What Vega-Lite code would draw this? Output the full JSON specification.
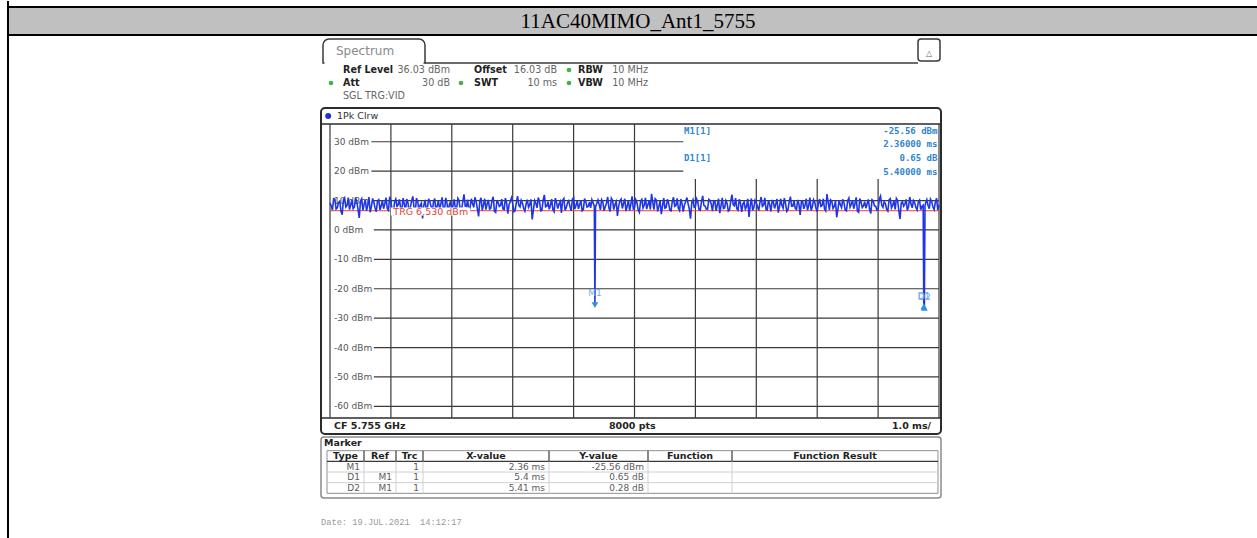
{
"$schema": "https://vega.github.io/schema/vega-lite/v6.json",
"padding": {"left": 7, "top": 0, "right": 0, "bottom": 0},
"background": "white",
"bounds": "flush",
"spacing": 0,
"config": {"view": {"stroke": null}, "font": "DejaVu Sans", "axis": {"disable": true}, "legend": {"disable": true}},
"datasets": {
 "hdr": [{"title": "11AC40MIMO_Ant1_5755"}],
 "misc": [{"trace": "1Pk Clrw", "tab": "Spectrum", "marker": "Marker", "date": "Date: 19.JUL.2021\u00a0 14:12:17", "icon": "\u25b3"}],
 "params": [
  {"row": 1, "col": 1, "name": "Ref Level", "val": "36.03 dBm", "dot": false},
  {"row": 1, "col": 2, "name": "Offset", "val": "16.03 dB", "dot": false},
  {"row": 1, "col": 3, "name": "RBW", "val": "10 MHz", "dot": true},
  {"row": 2, "col": 1, "name": "Att", "val": "30 dB", "dot": true},
  {"row": 2, "col": 2, "name": "SWT", "val": "10 ms", "dot": true},
  {"row": 2, "col": 3, "name": "VBW", "val": "10 MHz", "dot": true},
  {"row": 3, "col": 1, "name": "SGL TRG:VID", "val": "", "dot": false}
 ],
 "edges": [{"lvl": 36.03, "name": "Ref Level"}, {"lvl": -63.97, "name": "Bottom"}],
 "divs": [{"ms": 0}, {"ms": 1}, {"ms": 2}, {"ms": 3}, {"ms": 4}, {"ms": 5}, {"ms": 6}, {"ms": 7}, {"ms": 8}, {"ms": 9}, {"ms": 10}],
 "levels": [
  {"dbm": 30, "lbl": "30 dBm"}, {"dbm": 20, "lbl": "20 dBm"}, {"dbm": 10, "lbl": "10 dBm"}, {"dbm": 0, "lbl": "0 dBm"},
  {"dbm": -10, "lbl": "-10 dBm"}, {"dbm": -20, "lbl": "-20 dBm"}, {"dbm": -30, "lbl": "-30 dBm"}, {"dbm": -40, "lbl": "-40 dBm"},
  {"dbm": -50, "lbl": "-50 dBm"}, {"dbm": -60, "lbl": "-60 dBm"}
 ],
 "trg": [{"trg": 6.53, "lbl": "TRG 6.530 dBm"}],
 "footer": [{"k": "cf", "txt": "CF 5.755 GHz"}, {"k": "pts", "txt": "8000 pts"}, {"k": "div", "txt": "1.0 ms/"}],
 "markers": [
  {"type": "M1", "ref": "", "trc": 1, "xv": "2.36 ms", "yv": "-25.56 dBm", "row": 1, "t": 4.35, "lvl": -25.56, "info": "M1[1]", "lines": ["-25.56 dBm", "2.36000 ms"]},
  {"type": "D1", "ref": "M1", "trc": 1, "xv": "5.4 ms", "yv": "0.65 dB", "row": 2, "t": 9.75, "lvl": -24.91, "info": "D1[1]", "lines": ["0.65 dB", "5.40000 ms"]},
  {"type": "D2", "ref": "M1", "trc": 1, "xv": "5.41 ms", "yv": "0.28 dB", "row": 3, "t": 9.76, "lvl": -25.28, "info": "", "lines": []}
 ],
 "cols": [{"h": "Type", "ci": 0}, {"h": "Ref", "ci": 1}, {"h": "Trc", "ci": 2}, {"h": "X-value", "ci": 3}, {"h": "Y-value", "ci": 4}, {"h": "Function", "ci": 5}, {"h": "Function Result", "ci": 6}, {"h": "", "ci": 7}],
 "trace": [
  {"t":0,"d":9.1},{"t":0.04,"d":6.8},{"t":0.08,"d":10.4},{"t":0.12,"d":7.5},{"t":0.16,"d":9.8},{"t":0.2,"d":5.2},{"t":0.24,"d":10.9},{"t":0.28,"d":8.3},{"t":0.32,"d":6.9},{"t":0.36,"d":10.1},
  {"t":0.4,"d":7.7},{"t":0.44,"d":9.6},{"t":0.48,"d":4.1},{"t":0.52,"d":10.6},{"t":0.56,"d":8.8},{"t":0.6,"d":6.5},{"t":0.64,"d":11.2},{"t":0.68,"d":7.9},{"t":0.72,"d":9.4},{"t":0.76,"d":6.2},
  {"t":0.8,"d":10.3},{"t":0.84,"d":8.1},{"t":0.88,"d":7.2},{"t":0.92,"d":11.0},{"t":0.96,"d":6.7},{"t":1.0,"d":9.9},{"t":1.04,"d":5.6},{"t":1.08,"d":10.5},{"t":1.12,"d":8.6},{"t":1.16,"d":7.4},
  {"t":1.2,"d":10.8},{"t":1.24,"d":6.9},{"t":1.28,"d":9.3},{"t":1.32,"d":7.8},{"t":1.36,"d":11.4},{"t":1.4,"d":6.1},{"t":1.44,"d":9.7},{"t":1.48,"d":8.4},{"t":1.52,"d":3.9},{"t":1.56,"d":10.2},
  {"t":1.6,"d":7.6},{"t":1.64,"d":9.5},{"t":1.68,"d":6.4},{"t":1.72,"d":10.7},{"t":1.76,"d":8.2},{"t":1.8,"d":7.0},{"t":1.84,"d":11.1},{"t":1.88,"d":6.6},{"t":1.92,"d":9.2},{"t":1.96,"d":8.7},
  {"t":2.0,"d":5.9},{"t":2.04,"d":10.4},{"t":2.08,"d":7.3},{"t":2.12,"d":9.9},{"t":2.16,"d":6.8},{"t":2.2,"d":12.1},{"t":2.24,"d":8.0},{"t":2.28,"d":6.3},{"t":2.32,"d":10.6},{"t":2.36,"d":7.7},
  {"t":2.4,"d":9.6},{"t":2.44,"d":4.6},{"t":2.48,"d":10.9},{"t":2.52,"d":8.5},{"t":2.56,"d":6.9},{"t":2.6,"d":10.2},{"t":2.64,"d":7.4},{"t":2.68,"d":11.3},{"t":2.72,"d":6.0},{"t":2.76,"d":9.4},
  {"t":2.8,"d":8.3},{"t":2.84,"d":7.1},{"t":2.88,"d":10.8},{"t":2.92,"d":5.5},{"t":2.96,"d":9.7},{"t":3.0,"d":8.9},{"t":3.04,"d":6.6},{"t":3.08,"d":11.5},{"t":3.12,"d":7.8},{"t":3.16,"d":9.1},
  {"t":3.2,"d":6.4},{"t":3.24,"d":10.3},{"t":3.28,"d":8.6},{"t":3.32,"d":3.6},{"t":3.36,"d":10.0},{"t":3.4,"d":7.5},{"t":3.44,"d":9.8},{"t":3.48,"d":6.7},{"t":3.52,"d":11.9},{"t":3.56,"d":8.1},
  {"t":3.6,"d":7.0},{"t":3.64,"d":10.5},{"t":3.68,"d":6.2},{"t":3.72,"d":9.3},{"t":3.76,"d":8.8},{"t":3.8,"d":5.8},{"t":3.84,"d":10.7},{"t":3.88,"d":7.6},{"t":3.92,"d":9.9},{"t":3.96,"d":6.5},
  {"t":4.0,"d":11.0},{"t":4.04,"d":8.4},{"t":4.08,"d":7.2},{"t":4.12,"d":10.1},{"t":4.16,"d":6.9},{"t":4.2,"d":9.6},{"t":4.24,"d":8.0},{"t":4.28,"d":7.5},{"t":4.32,"d":9.2},
  {"t":4.34,"d":8.1},{"t":4.35,"d":-25.56},{"t":4.36,"d":7.8},
  {"t":4.4,"d":10.2},{"t":4.44,"d":6.8},{"t":4.48,"d":9.5},{"t":4.52,"d":7.9},{"t":4.56,"d":11.2},{"t":4.6,"d":6.3},{"t":4.64,"d":10.0},{"t":4.68,"d":8.7},{"t":4.72,"d":4.8},{"t":4.76,"d":9.8},
  {"t":4.8,"d":7.3},{"t":4.84,"d":10.6},{"t":4.88,"d":8.2},{"t":4.92,"d":6.6},{"t":4.96,"d":11.4},{"t":5.0,"d":7.7},{"t":5.04,"d":9.3},{"t":5.08,"d":6.0},{"t":5.12,"d":10.4},{"t":5.16,"d":8.5},
  {"t":5.2,"d":7.1},{"t":5.24,"d":9.9},{"t":5.28,"d":12.3},{"t":5.32,"d":6.9},{"t":5.36,"d":10.1},{"t":5.4,"d":8.0},{"t":5.44,"d":5.4},{"t":5.48,"d":10.8},{"t":5.52,"d":7.6},{"t":5.56,"d":9.2},
  {"t":5.6,"d":6.5},{"t":5.64,"d":11.1},{"t":5.68,"d":8.3},{"t":5.72,"d":7.4},{"t":5.76,"d":10.5},{"t":5.8,"d":6.2},{"t":5.84,"d":9.7},{"t":5.88,"d":8.9},{"t":5.92,"d":3.8},{"t":5.96,"d":10.3},
  {"t":6.0,"d":7.9},{"t":6.04,"d":9.4},{"t":6.08,"d":6.7},{"t":6.12,"d":11.6},{"t":6.16,"d":8.1},{"t":6.2,"d":7.0},{"t":6.24,"d":10.0},{"t":6.28,"d":6.4},{"t":6.32,"d":9.8},{"t":6.36,"d":8.6},
  {"t":6.4,"d":5.7},{"t":6.44,"d":10.9},{"t":6.48,"d":7.5},{"t":6.52,"d":9.1},{"t":6.56,"d":6.8},{"t":6.6,"d":12.0},{"t":6.64,"d":8.2},{"t":6.68,"d":7.2},{"t":6.72,"d":10.4},{"t":6.76,"d":6.1},
  {"t":6.8,"d":9.5},{"t":6.84,"d":8.0},{"t":6.88,"d":4.4},{"t":6.92,"d":10.7},{"t":6.96,"d":7.7},{"t":7.0,"d":9.3},{"t":7.04,"d":6.6},{"t":7.08,"d":11.2},{"t":7.12,"d":8.4},{"t":7.16,"d":7.0},
  {"t":7.2,"d":10.1},{"t":7.24,"d":6.3},{"t":7.28,"d":9.6},{"t":7.32,"d":8.8},{"t":7.36,"d":5.9},{"t":7.4,"d":10.6},{"t":7.44,"d":7.4},{"t":7.48,"d":9.0},{"t":7.52,"d":6.9},{"t":7.56,"d":11.3},
  {"t":7.6,"d":8.1},{"t":7.64,"d":7.3},{"t":7.68,"d":10.2},{"t":7.72,"d":5.1},{"t":7.76,"d":9.8},{"t":7.8,"d":8.5},{"t":7.84,"d":6.7},{"t":7.88,"d":11.0},{"t":7.92,"d":7.8},{"t":7.96,"d":9.4},
  {"t":8.0,"d":6.2},{"t":8.04,"d":10.5},{"t":8.08,"d":8.3},{"t":8.12,"d":7.1},{"t":8.16,"d":12.2},{"t":8.2,"d":6.8},{"t":8.24,"d":9.7},{"t":8.28,"d":8.0},{"t":8.32,"d":4.3},{"t":8.36,"d":10.1},
  {"t":8.4,"d":7.6},{"t":8.44,"d":9.2},{"t":8.48,"d":6.5},{"t":8.52,"d":10.8},{"t":8.56,"d":8.7},{"t":8.6,"d":7.2},{"t":8.64,"d":11.1},{"t":8.68,"d":6.0},{"t":8.72,"d":9.5},{"t":8.76,"d":8.2},
  {"t":8.8,"d":7.4},{"t":8.84,"d":10.4},{"t":8.88,"d":5.6},{"t":8.92,"d":9.9},{"t":8.96,"d":8.1},{"t":9.0,"d":6.9},{"t":9.04,"d":11.5},{"t":9.08,"d":7.7},{"t":9.12,"d":9.0},{"t":9.16,"d":6.4},
  {"t":9.2,"d":10.6},{"t":9.24,"d":8.4},{"t":9.28,"d":7.0},{"t":9.32,"d":10.0},{"t":9.36,"d":3.7},{"t":9.4,"d":9.6},{"t":9.44,"d":8.8},{"t":9.48,"d":6.6},{"t":9.52,"d":11.2},{"t":9.56,"d":7.5},
  {"t":9.6,"d":9.3},{"t":9.64,"d":6.8},{"t":9.68,"d":10.1},{"t":9.72,"d":8.0},
  {"t":9.74,"d":8.4},{"t":9.75,"d":-24.91},{"t":9.76,"d":-25.28},{"t":9.77,"d":8.0},
  {"t":9.8,"d":10.3},{"t":9.84,"d":7.2},{"t":9.88,"d":9.7},{"t":9.92,"d":6.9},{"t":9.96,"d":10.8},{"t":10.0,"d":8.5},
  {"t":0.02,"d":8.2},{"t":0.06,"d":10.6},{"t":0.1,"d":7.1},{"t":0.14,"d":9.4},{"t":0.18,"d":6.3},{"t":0.22,"d":10.2},{"t":0.26,"d":7.8},{"t":0.3,"d":11.0},{"t":0.34,"d":8.5},{"t":0.38,"d":7.2},
  {"t":0.42,"d":10.9},{"t":0.46,"d":7.0},{"t":0.5,"d":9.8},{"t":0.54,"d":6.6},{"t":0.58,"d":10.3},{"t":0.62,"d":8.4},{"t":0.66,"d":6.0},{"t":0.7,"d":10.7},{"t":0.74,"d":7.5},{"t":0.78,"d":9.9},
  {"t":0.82,"d":6.8},{"t":0.86,"d":10.1},{"t":0.9,"d":8.9},{"t":0.94,"d":7.3},{"t":0.98,"d":11.3},{"t":1.02,"d":6.4},{"t":1.06,"d":9.5},{"t":1.1,"d":8.0},{"t":1.14,"d":10.4},{"t":1.18,"d":6.9},
  {"t":1.22,"d":8.7},{"t":1.26,"d":10.5},{"t":1.3,"d":5.3},{"t":1.34,"d":9.9},{"t":1.38,"d":7.6},{"t":1.42,"d":10.8},{"t":1.46,"d":6.7},{"t":1.5,"d":9.1},{"t":1.54,"d":8.3},{"t":1.58,"d":7.0},
  {"t":1.62,"d":10.6},{"t":1.66,"d":8.0},{"t":1.7,"d":9.6},{"t":1.74,"d":6.1},{"t":1.78,"d":10.0},{"t":1.82,"d":8.8},{"t":1.86,"d":7.4},{"t":1.9,"d":10.9},{"t":1.94,"d":5.8},{"t":1.98,"d":9.7},
  {"t":2.02,"d":8.4},{"t":2.06,"d":7.0},{"t":2.1,"d":10.7},{"t":2.14,"d":6.6},{"t":2.18,"d":9.5},{"t":2.22,"d":8.1},{"t":2.26,"d":10.3},{"t":2.3,"d":7.6},{"t":2.34,"d":9.0},{"t":2.38,"d":11.1},
  {"t":2.42,"d":7.2},{"t":2.46,"d":9.8},{"t":2.5,"d":6.7},{"t":2.54,"d":10.6},{"t":2.58,"d":8.8},{"t":2.62,"d":7.1},{"t":2.66,"d":10.0},{"t":2.7,"d":6.4},{"t":2.74,"d":9.7},{"t":2.78,"d":8.0},
  {"t":2.82,"d":10.5},{"t":2.86,"d":6.9},{"t":2.9,"d":9.2},{"t":2.94,"d":8.6},{"t":2.98,"d":10.9},{"t":3.02,"d":6.2},{"t":3.06,"d":9.4},{"t":3.1,"d":8.3},{"t":3.14,"d":10.1},{"t":3.18,"d":7.3},
  {"t":3.22,"d":8.9},{"t":3.26,"d":7.7},{"t":3.3,"d":10.4},{"t":3.34,"d":6.8},{"t":3.38,"d":9.1},{"t":3.42,"d":11.0},{"t":3.46,"d":6.5},{"t":3.5,"d":10.2},{"t":3.54,"d":7.9},{"t":3.58,"d":9.6},
  {"t":3.62,"d":8.5},{"t":3.66,"d":6.9},{"t":3.7,"d":10.8},{"t":3.74,"d":7.3},{"t":3.78,"d":9.7},{"t":3.82,"d":10.1},{"t":3.86,"d":6.6},{"t":3.9,"d":9.2},{"t":3.94,"d":8.0},{"t":3.98,"d":10.4},
  {"t":4.02,"d":7.1},{"t":4.06,"d":9.9},{"t":4.1,"d":8.6},{"t":4.14,"d":6.5},{"t":4.18,"d":10.7},{"t":4.22,"d":7.8},{"t":4.26,"d":9.4},{"t":4.3,"d":10.3},{"t":4.38,"d":9.0},
  {"t":4.42,"d":8.6},{"t":4.46,"d":10.3},{"t":4.5,"d":6.5},{"t":4.54,"d":9.1},{"t":4.58,"d":7.4},{"t":4.62,"d":10.8},{"t":4.66,"d":6.9},{"t":4.7,"d":9.6},{"t":4.74,"d":8.2},{"t":4.78,"d":10.5},
  {"t":4.82,"d":9.0},{"t":4.86,"d":6.4},{"t":4.9,"d":10.1},{"t":4.94,"d":8.7},{"t":4.98,"d":7.2},{"t":5.02,"d":10.3},{"t":5.06,"d":6.8},{"t":5.1,"d":9.8},{"t":5.14,"d":7.5},{"t":5.18,"d":10.9},
  {"t":5.22,"d":8.6},{"t":5.26,"d":7.0},{"t":5.3,"d":9.4},{"t":5.34,"d":10.6},{"t":5.38,"d":6.3},{"t":5.42,"d":9.9},{"t":5.46,"d":8.1},{"t":5.5,"d":7.4},{"t":5.54,"d":10.4},{"t":5.58,"d":6.7},
  {"t":5.62,"d":9.6},{"t":5.66,"d":8.0},{"t":5.7,"d":10.7},{"t":5.74,"d":6.6},{"t":5.78,"d":9.0},{"t":5.82,"d":8.5},{"t":5.86,"d":11.0},{"t":5.9,"d":7.1},{"t":5.94,"d":9.3},{"t":5.98,"d":7.7},
  {"t":6.02,"d":10.5},{"t":6.06,"d":6.9},{"t":6.1,"d":9.6},{"t":6.14,"d":8.3},{"t":6.18,"d":7.1},{"t":6.22,"d":10.4},{"t":6.26,"d":8.8},{"t":6.3,"d":9.9},{"t":6.34,"d":6.5},{"t":6.38,"d":10.6},
  {"t":6.42,"d":8.2},{"t":6.46,"d":7.3},{"t":6.5,"d":10.0},{"t":6.54,"d":6.4},{"t":6.58,"d":9.7},{"t":6.62,"d":8.6},{"t":6.66,"d":10.8},{"t":6.7,"d":6.7},{"t":6.74,"d":9.2},{"t":6.78,"d":8.9},
  {"t":6.82,"d":7.1},{"t":6.86,"d":10.6},{"t":6.9,"d":8.3},{"t":6.94,"d":6.6},{"t":6.98,"d":10.1},{"t":7.02,"d":7.9},{"t":7.06,"d":9.4},{"t":7.1,"d":8.0},{"t":7.14,"d":10.9},{"t":7.18,"d":6.8},
  {"t":7.22,"d":8.7},{"t":7.26,"d":9.9},{"t":7.3,"d":7.3},{"t":7.34,"d":10.5},{"t":7.38,"d":7.8},{"t":7.42,"d":8.4},{"t":7.46,"d":10.8},{"t":7.5,"d":6.3},{"t":7.54,"d":9.5},{"t":7.58,"d":8.1},
  {"t":7.62,"d":10.0},{"t":7.66,"d":6.9},{"t":7.7,"d":8.8},{"t":7.74,"d":9.5},{"t":7.78,"d":7.2},{"t":7.82,"d":10.6},{"t":7.86,"d":8.2},{"t":7.9,"d":6.6},{"t":7.94,"d":10.3},{"t":7.98,"d":7.4},
  {"t":8.02,"d":9.1},{"t":8.06,"d":8.0},{"t":8.1,"d":10.6},{"t":8.14,"d":6.5},{"t":8.18,"d":9.4},{"t":8.22,"d":10.2},{"t":8.26,"d":7.3},{"t":8.3,"d":9.8},{"t":8.34,"d":7.0},{"t":8.38,"d":8.6},
  {"t":8.42,"d":10.4},{"t":8.46,"d":6.8},{"t":8.5,"d":9.9},{"t":8.54,"d":7.7},{"t":8.58,"d":10.1},{"t":8.62,"d":8.9},{"t":8.66,"d":6.4},{"t":8.7,"d":10.7},{"t":8.74,"d":7.6},{"t":8.78,"d":9.6},
  {"t":8.82,"d":8.9},{"t":8.86,"d":7.1},{"t":8.9,"d":10.3},{"t":8.94,"d":8.2},{"t":8.98,"d":6.7},{"t":9.02,"d":10.5},{"t":9.06,"d":8.4},{"t":9.1,"d":9.6},{"t":9.14,"d":7.0},{"t":9.18,"d":10.2},
  {"t":9.22,"d":7.5},{"t":9.26,"d":9.9},{"t":9.3,"d":10.7},{"t":9.34,"d":6.6},{"t":9.38,"d":9.2},{"t":9.42,"d":8.1},{"t":9.46,"d":10.4},{"t":9.5,"d":7.9},{"t":9.54,"d":8.8},{"t":9.58,"d":10.0},
  {"t":9.62,"d":7.6},{"t":9.66,"d":9.5},{"t":9.7,"d":6.9},{"t":9.78,"d":9.2},
  {"t":9.82,"d":8.3},{"t":9.86,"d":10.5},{"t":9.9,"d":7.8},{"t":9.94,"d":9.4},{"t":9.98,"d":6.8}
 ]
},
"vconcat": [
 {
  "width": 1250, "height": 34,
  "data": {"name": "hdr"},
  "layer": [
   {"mark": {"type": "rect", "fill": "#c0c0c0"},
    "encoding": {
     "x": {"datum": 0, "type": "quantitative", "scale": {"domain": [0, 1], "nice": false, "zero": false}, "axis": null},
     "x2": {"datum": 1},
     "y": {"datum": 6, "type": "quantitative", "scale": {"domain": [0, 34], "reverse": true, "nice": false, "zero": false}, "axis": null},
     "y2": {"datum": 34}}},
   {"mark": {"type": "rule", "stroke": "black", "strokeWidth": 2},
    "encoding": {"y": {"datum": 6, "type": "quantitative", "scale": {"domain": [0, 34], "reverse": true, "nice": false, "zero": false}}}},
   {"mark": {"type": "rule", "stroke": "black", "strokeWidth": 2},
    "encoding": {"y": {"datum": 34, "type": "quantitative", "scale": {"domain": [0, 34], "reverse": true, "nice": false, "zero": false}}}},
   {"mark": {"type": "rule", "stroke": "black", "strokeWidth": 2},
    "encoding": {"x": {"datum": 0, "type": "quantitative", "scale": {"domain": [0, 1], "nice": false, "zero": false}}}},
   {"mark": {"type": "text", "font": "Liberation Serif", "fontSize": 21, "fill": "black", "align": "center", "baseline": "middle"},
    "encoding": {
     "x": {"datum": 0.504, "type": "quantitative", "scale": {"domain": [0, 1], "nice": false, "zero": false}},
     "y": {"datum": 20.5, "type": "quantitative", "scale": {"domain": [0, 34], "reverse": true, "nice": false, "zero": false}},
     "text": {"field": "title"}}}
  ]
 },
 {
  "hconcat": [
   {
    "width": 1, "height": 504,
    "data": {"name": "hdr"},
    "mark": {"type": "rule", "stroke": "black", "strokeWidth": 2},
    "encoding": {"x": {"datum": 0, "type": "quantitative", "scale": {"domain": [0, 1], "nice": false, "zero": false}, "axis": null}}
   },
   {
    "vconcat": [
     {
      "width": 620, "height": 70,
      "resolve": {"scale": {"x": "independent", "y": "independent"}},
      "layer": [
       {"data": {"name": "misc"},
        "mark": {"type": "rect", "fill": "white", "stroke": "#3a3a3a", "strokeWidth": 1.5, "cornerRadiusTopLeft": 6, "cornerRadiusTopRight": 6},
        "encoding": {
         "x": {"datum": 2, "type": "quantitative", "scale": {"domain": [0, 620], "nice": false, "zero": false}},
         "x2": {"datum": 104},
         "y": {"datum": 4, "type": "quantitative", "scale": {"domain": [0, 70], "reverse": true, "nice": false, "zero": false}},
         "y2": {"datum": 28}}},
       {"data": {"name": "misc"},
        "mark": {"type": "rule", "stroke": "white", "strokeWidth": 2.5},
        "encoding": {
         "x": {"datum": 3.5, "type": "quantitative", "scale": {"domain": [0, 620], "nice": false, "zero": false}},
         "x2": {"datum": 102.5},
         "y": {"datum": 28, "type": "quantitative", "scale": {"domain": [0, 70], "reverse": true, "nice": false, "zero": false}}}},
       {"data": {"name": "misc"},
        "mark": {"type": "rule", "stroke": "#3a3a3a", "strokeWidth": 1.5},
        "encoding": {
         "x": {"datum": 104, "type": "quantitative", "scale": {"domain": [0, 620], "nice": false, "zero": false}},
         "x2": {"datum": 597},
         "y": {"datum": 28, "type": "quantitative", "scale": {"domain": [0, 70], "reverse": true, "nice": false, "zero": false}}}},
       {"data": {"name": "misc"},
        "mark": {"type": "text", "align": "left", "baseline": "middle", "fontSize": 12, "fill": "#8a8a8a"},
        "encoding": {
         "x": {"datum": 15, "type": "quantitative", "scale": {"domain": [0, 620], "nice": false, "zero": false}},
         "y": {"datum": 16, "type": "quantitative", "scale": {"domain": [0, 70], "reverse": true, "nice": false, "zero": false}},
         "text": {"field": "tab"}}},
       {"data": {"name": "misc"},
        "mark": {"type": "rect", "fill": "white", "stroke": "#3a3a3a", "strokeWidth": 1.5, "cornerRadius": 3},
        "encoding": {
         "x": {"datum": 597, "type": "quantitative", "scale": {"domain": [0, 620], "nice": false, "zero": false}},
         "x2": {"datum": 619},
         "y": {"datum": 4, "type": "quantitative", "scale": {"domain": [0, 70], "reverse": true, "nice": false, "zero": false}},
         "y2": {"datum": 26}}},
       {"data": {"name": "misc"},
        "mark": {"type": "text", "align": "center", "baseline": "middle", "fontSize": 8, "fill": "#666"},
        "encoding": {
         "x": {"datum": 608, "type": "quantitative", "scale": {"domain": [0, 620], "nice": false, "zero": false}},
         "y": {"datum": 19, "type": "quantitative", "scale": {"domain": [0, 70], "reverse": true, "nice": false, "zero": false}},
         "text": {"field": "icon"}}},
       {"data": {"name": "params"},
        "transform": [{"filter": "datum.row < 3"}],
        "mark": {"type": "text", "align": "left", "baseline": "middle", "fontSize": 9.6, "fontWeight": "bold", "fill": "#222"},
        "encoding": {
         "x": {"field": "col", "type": "quantitative", "scale": {"domain": [1, 2, 3], "range": [22, 153, 257], "nice": false, "zero": false}},
         "y": {"field": "row", "type": "quantitative", "scale": {"domain": [1, 3], "range": [35, 61], "nice": false, "zero": false}},
         "text": {"field": "name"}}},
       {"data": {"name": "params"},
        "transform": [{"filter": "datum.row < 3"}],
        "mark": {"type": "text", "align": "right", "baseline": "middle", "fontSize": 9.6, "fill": "#666"},
        "encoding": {
         "x": {"field": "col", "type": "quantitative", "scale": {"domain": [1, 2, 3], "range": [129, 236, 327], "nice": false, "zero": false}},
         "y": {"field": "row", "type": "quantitative", "scale": {"domain": [1, 3], "range": [35, 61], "nice": false, "zero": false}},
         "text": {"field": "val"}}},
       {"data": {"name": "params"},
        "transform": [{"filter": "datum.dot"}],
        "mark": {"type": "point", "shape": "circle", "filled": true, "size": 22, "fill": "#44b04c", "opacity": 1},
        "encoding": {
         "x": {"field": "col", "type": "quantitative", "scale": {"domain": [1, 2, 3], "range": [10, 140, 248], "nice": false, "zero": false}},
         "y": {"field": "row", "type": "quantitative", "scale": {"domain": [1, 3], "range": [35, 61], "nice": false, "zero": false}}}},
       {"data": {"name": "params"},
        "transform": [{"filter": "datum.row == 3"}],
        "mark": {"type": "text", "align": "left", "baseline": "middle", "fontSize": 9.6, "fill": "#666"},
        "encoding": {
         "x": {"field": "col", "type": "quantitative", "scale": {"domain": [1, 2, 3], "range": [22, 153, 257], "nice": false, "zero": false}},
         "y": {"field": "row", "type": "quantitative", "scale": {"domain": [1, 3], "range": [35, 61], "nice": false, "zero": false}},
         "text": {"field": "name"}}}
      ]
     },
     {
      "width": 620, "height": 326,
      "view": {"stroke": "#2b2b2b", "strokeWidth": 2, "cornerRadius": 4},
      "layer": [
       {"data": {"name": "edges"},
        "mark": {"type": "rule", "stroke": "#2b2b2b", "strokeWidth": 1.5},
        "encoding": {"y": {"field": "lvl", "type": "quantitative", "scale": {"domain": [-69.412, 41.472], "nice": false, "zero": false}}}},
       {"data": {"name": "divs"},
        "transform": [{"filter": "datum.ms <= 5 || datum.ms == 10"}],
        "mark": {"type": "rule", "stroke": "#3a3a3a", "strokeWidth": 1.2},
        "encoding": {
         "x": {"field": "ms", "type": "quantitative", "scale": {"domain": [-0.1478, 10.0328], "nice": false, "zero": false}},
         "y": {"datum": -63.97, "type": "quantitative", "scale": {"domain": [-69.412, 41.472], "nice": false, "zero": false}},
         "y2": {"datum": 36.03}}},
       {"data": {"name": "divs"},
        "transform": [{"filter": "datum.ms > 5 && datum.ms < 10"}],
        "mark": {"type": "rule", "stroke": "#3a3a3a", "strokeWidth": 1.2},
        "encoding": {
         "x": {"field": "ms", "type": "quantitative", "scale": {"domain": [-0.1478, 10.0328], "nice": false, "zero": false}},
         "y": {"datum": -63.97, "type": "quantitative", "scale": {"domain": [-69.412, 41.472], "nice": false, "zero": false}},
         "y2": {"datum": 17.32}}},
       {"data": {"name": "levels"},
        "transform": [{"filter": "datum.dbm <= 10"}],
        "mark": {"type": "rule", "stroke": "#3a3a3a", "strokeWidth": 1.2},
        "encoding": {
         "y": {"field": "dbm", "type": "quantitative", "scale": {"domain": [-69.412, 41.472], "nice": false, "zero": false}},
         "x": {"datum": 0.72, "type": "quantitative", "scale": {"domain": [-0.1478, 10.0328], "nice": false, "zero": false}},
         "x2": {"datum": 10}}},
       {"data": {"name": "levels"},
        "transform": [{"filter": "datum.dbm > 10"}],
        "mark": {"type": "rule", "stroke": "#3a3a3a", "strokeWidth": 1.2},
        "encoding": {
         "y": {"field": "dbm", "type": "quantitative", "scale": {"domain": [-69.412, 41.472], "nice": false, "zero": false}},
         "x": {"datum": 0.68, "type": "quantitative", "scale": {"domain": [-0.1478, 10.0328], "nice": false, "zero": false}},
         "x2": {"datum": 5.8}}},
       {"data": {"name": "levels"},
        "mark": {"type": "text", "align": "left", "baseline": "middle", "fontSize": 9, "fill": "#555"},
        "encoding": {
         "y": {"field": "dbm", "type": "quantitative", "scale": {"domain": [-69.412, 41.472], "nice": false, "zero": false}},
         "x": {"datum": 0.066, "type": "quantitative", "scale": {"domain": [-0.1478, 10.0328], "nice": false, "zero": false}},
         "text": {"field": "lbl"}}},
       {"data": {"name": "trg"},
        "mark": {"type": "rule", "stroke": "#e8412f", "strokeWidth": 1},
        "encoding": {
         "y": {"field": "trg", "type": "quantitative", "scale": {"domain": [-69.412, 41.472], "nice": false, "zero": false}},
         "x": {"datum": 0, "type": "quantitative", "scale": {"domain": [-0.1478, 10.0328], "nice": false, "zero": false}},
         "x2": {"datum": 10}}},
       {"data": {"name": "trace"},
        "mark": {"type": "line", "stroke": "#1f35e6", "strokeWidth": 1.6},
        "encoding": {
         "x": {"field": "t", "type": "quantitative", "scale": {"domain": [-0.1478, 10.0328], "nice": false, "zero": false}},
         "y": {"field": "d", "type": "quantitative", "scale": {"domain": [-69.412, 41.472], "nice": false, "zero": false}}}},
       {"data": {"name": "trg"},
        "mark": {"type": "rect", "fill": "white"},
        "encoding": {
         "x": {"datum": 1.0, "type": "quantitative", "scale": {"domain": [-0.1478, 10.0328], "nice": false, "zero": false}},
         "x2": {"datum": 2.3},
         "y": {"datum": 4.9, "type": "quantitative", "scale": {"domain": [-69.412, 41.472], "nice": false, "zero": false}},
         "y2": {"datum": 7.6}}},
       {"data": {"name": "trg"},
        "mark": {"type": "text", "align": "left", "baseline": "middle", "fontSize": 9.5, "fill": "#e8412f", "dy": 1},
        "encoding": {
         "y": {"field": "trg", "type": "quantitative", "scale": {"domain": [-69.412, 41.472], "nice": false, "zero": false}},
         "x": {"datum": 1.04, "type": "quantitative", "scale": {"domain": [-0.1478, 10.0328], "nice": false, "zero": false}},
         "text": {"field": "lbl"}}},
       {"data": {"name": "markers"},
        "transform": [{"filter": "datum.type == 'M1'"}],
        "mark": {"type": "point", "shape": "triangle-down", "filled": true, "size": 45, "fill": "#2f8fe0", "opacity": 1},
        "encoding": {
         "x": {"field": "t", "type": "quantitative", "scale": {"domain": [-0.1478, 10.0328], "nice": false, "zero": false}},
         "y": {"field": "lvl", "type": "quantitative", "scale": {"domain": [-69.412, 41.472], "nice": false, "zero": false}}}},
       {"data": {"name": "markers"},
        "transform": [{"filter": "datum.type != 'M1'"}],
        "mark": {"type": "point", "shape": "triangle-up", "filled": true, "size": 45, "fill": "#2f8fe0", "opacity": 1, "yOffset": 3.5},
        "encoding": {
         "x": {"field": "t", "type": "quantitative", "scale": {"domain": [-0.1478, 10.0328], "nice": false, "zero": false}},
         "y": {"field": "lvl", "type": "quantitative", "scale": {"domain": [-69.412, 41.472], "nice": false, "zero": false}}}},
       {"data": {"name": "markers"},
        "transform": [{"filter": "datum.type == 'M1'"}],
        "mark": {"type": "text", "align": "center", "baseline": "middle", "fontSize": 9, "fill": "#6fb0ec", "dy": -12},
        "encoding": {
         "x": {"field": "t", "type": "quantitative", "scale": {"domain": [-0.1478, 10.0328], "nice": false, "zero": false}},
         "y": {"field": "lvl", "type": "quantitative", "scale": {"domain": [-69.412, 41.472], "nice": false, "zero": false}},
         "text": {"field": "type"}}},
       {"data": {"name": "markers"},
        "transform": [{"filter": "datum.type != 'M1'"}],
        "mark": {"type": "text", "align": "center", "baseline": "middle", "fontSize": 9, "fill": "#6fb0ec", "dy": -7},
        "encoding": {
         "x": {"field": "t", "type": "quantitative", "scale": {"domain": [-0.1478, 10.0328], "nice": false, "zero": false}},
         "y": {"field": "lvl", "type": "quantitative", "scale": {"domain": [-69.412, 41.472], "nice": false, "zero": false}},
         "text": {"field": "type"}}},
       {"data": {"name": "markers"},
        "transform": [{"filter": "datum.type == 'M1'"}],
        "mark": {"type": "text", "align": "left", "baseline": "top", "font": "DejaVu Sans Mono", "fontWeight": "bold", "fontSize": 9, "fill": "#2f86cf"},
        "encoding": {
         "x": {"datum": 5.813, "type": "quantitative", "scale": {"domain": [-0.1478, 10.0328], "nice": false, "zero": false}},
         "y": {"datum": 35.01, "type": "quantitative", "scale": {"domain": [-69.412, 41.472], "nice": false, "zero": false}},
         "text": {"field": "info"}}},
       {"data": {"name": "markers"},
        "transform": [{"filter": "datum.type == 'D1'"}],
        "mark": {"type": "text", "align": "left", "baseline": "top", "font": "DejaVu Sans Mono", "fontWeight": "bold", "fontSize": 9, "fill": "#2f86cf"},
        "encoding": {
         "x": {"datum": 5.813, "type": "quantitative", "scale": {"domain": [-0.1478, 10.0328], "nice": false, "zero": false}},
         "y": {"datum": 25.82, "type": "quantitative", "scale": {"domain": [-69.412, 41.472], "nice": false, "zero": false}},
         "text": {"field": "info"}}},
       {"data": {"name": "markers"},
        "transform": [{"filter": "datum.type == 'M1'"}],
        "mark": {"type": "text", "align": "right", "baseline": "top", "font": "DejaVu Sans Mono", "fontWeight": "bold", "fontSize": 9, "fill": "#2f86cf", "lineHeight": 13.5},
        "encoding": {
         "x": {"datum": 9.974, "type": "quantitative", "scale": {"domain": [-0.1478, 10.0328], "nice": false, "zero": false}},
         "y": {"datum": 35.01, "type": "quantitative", "scale": {"domain": [-69.412, 41.472], "nice": false, "zero": false}},
         "text": {"field": "lines"}}},
       {"data": {"name": "markers"},
        "transform": [{"filter": "datum.type == 'D1'"}],
        "mark": {"type": "text", "align": "right", "baseline": "top", "font": "DejaVu Sans Mono", "fontWeight": "bold", "fontSize": 9, "fill": "#2f86cf", "lineHeight": 13.5},
        "encoding": {
         "x": {"datum": 9.974, "type": "quantitative", "scale": {"domain": [-0.1478, 10.0328], "nice": false, "zero": false}},
         "y": {"datum": 25.82, "type": "quantitative", "scale": {"domain": [-69.412, 41.472], "nice": false, "zero": false}},
         "text": {"field": "lines"}}},
       {"data": {"name": "misc"},
        "mark": {"type": "point", "shape": "circle", "filled": true, "size": 36, "fill": "#2233cc", "opacity": 1},
        "encoding": {
         "x": {"datum": -0.03, "type": "quantitative", "scale": {"domain": [-0.1478, 10.0328], "nice": false, "zero": false}},
         "y": {"datum": 38.75, "type": "quantitative", "scale": {"domain": [-69.412, 41.472], "nice": false, "zero": false}}}},
       {"data": {"name": "misc"},
        "mark": {"type": "text", "align": "left", "baseline": "middle", "fontSize": 9.5, "fill": "#333"},
        "encoding": {
         "x": {"datum": 0.115, "type": "quantitative", "scale": {"domain": [-0.1478, 10.0328], "nice": false, "zero": false}},
         "y": {"datum": 38.75, "type": "quantitative", "scale": {"domain": [-69.412, 41.472], "nice": false, "zero": false}},
         "text": {"field": "trace"}}},
       {"data": {"name": "footer"},
        "transform": [{"filter": "datum.k == 'cf'"}],
        "mark": {"type": "text", "align": "left", "baseline": "middle", "fontSize": 9.5, "fontWeight": "bold", "fill": "#222"},
        "encoding": {
         "x": {"datum": 0.066, "type": "quantitative", "scale": {"domain": [-0.1478, 10.0328], "nice": false, "zero": false}},
         "y": {"datum": -66.69, "type": "quantitative", "scale": {"domain": [-69.412, 41.472], "nice": false, "zero": false}},
         "text": {"field": "txt"}}},
       {"data": {"name": "footer"},
        "transform": [{"filter": "datum.k == 'pts'"}],
        "mark": {"type": "text", "align": "left", "baseline": "middle", "fontSize": 9.5, "fontWeight": "bold", "fill": "#222"},
        "encoding": {
         "x": {"datum": 4.58, "type": "quantitative", "scale": {"domain": [-0.1478, 10.0328], "nice": false, "zero": false}},
         "y": {"datum": -66.69, "type": "quantitative", "scale": {"domain": [-69.412, 41.472], "nice": false, "zero": false}},
         "text": {"field": "txt"}}},
       {"data": {"name": "footer"},
        "transform": [{"filter": "datum.k == 'div'"}],
        "mark": {"type": "text", "align": "right", "baseline": "middle", "fontSize": 9.5, "fontWeight": "bold", "fill": "#222"},
        "encoding": {
         "x": {"datum": 9.87, "type": "quantitative", "scale": {"domain": [-0.1478, 10.0328], "nice": false, "zero": false}},
         "y": {"datum": -66.69, "type": "quantitative", "scale": {"domain": [-69.412, 41.472], "nice": false, "zero": false}},
         "text": {"field": "txt"}}}
      ]
     },
     {
      "width": 620, "height": 61,
      "view": {"stroke": "#8a8a8a", "strokeWidth": 1.5, "cornerRadius": 3},
      "layer": [
       {"data": {"name": "misc"},
        "mark": {"type": "text", "align": "left", "baseline": "middle", "fontSize": 9.5, "fontWeight": "bold", "fill": "#222"},
        "encoding": {
         "x": {"datum": -0.08, "type": "quantitative", "scale": {"domain": [0, 1, 2, 3, 4, 5, 6, 7], "range": [6, 43, 75, 102, 228, 327, 411, 617], "nice": false, "zero": false}},
         "y": {"datum": -1.25, "type": "quantitative", "scale": {"domain": [0, 3], "range": [19, 51], "nice": false, "zero": false}},
         "text": {"field": "marker"}}},
       {"data": {"name": "misc"},
        "mark": {"type": "rect", "fill": "white", "stroke": "#909090", "strokeWidth": 1},
        "encoding": {
         "x": {"datum": 0, "type": "quantitative", "scale": {"domain": [0, 1, 2, 3, 4, 5, 6, 7], "range": [6, 43, 75, 102, 228, 327, 411, 617], "nice": false, "zero": false}},
         "x2": {"datum": 7},
         "y": {"datum": -0.5, "type": "quantitative", "scale": {"domain": [0, 3], "range": [19, 51], "nice": false, "zero": false}},
         "y2": {"datum": 3.5}}},
       {"data": {"name": "misc"},
        "mark": {"type": "rule", "stroke": "#3a3a3a", "strokeWidth": 1.2},
        "encoding": {
         "x": {"datum": 0, "type": "quantitative", "scale": {"domain": [0, 1, 2, 3, 4, 5, 6, 7], "range": [6, 43, 75, 102, 228, 327, 411, 617], "nice": false, "zero": false}},
         "x2": {"datum": 7},
         "y": {"datum": 0.5, "type": "quantitative", "scale": {"domain": [0, 3], "range": [19, 51], "nice": false, "zero": false}}}},
       {"data": {"name": "markers"},
        "transform": [{"filter": "datum.row < 3"}, {"calculate": "datum.row + 0.5", "as": "sep"}],
        "mark": {"type": "rule", "stroke": "#d0d0d0", "strokeWidth": 1},
        "encoding": {
         "x": {"datum": 0, "type": "quantitative", "scale": {"domain": [0, 1, 2, 3, 4, 5, 6, 7], "range": [6, 43, 75, 102, 228, 327, 411, 617], "nice": false, "zero": false}},
         "x2": {"datum": 7},
         "y": {"field": "sep", "type": "quantitative", "scale": {"domain": [0, 3], "range": [19, 51], "nice": false, "zero": false}}}},
       {"data": {"name": "cols"},
        "transform": [{"filter": "datum.ci > 0 && datum.ci < 7"}],
        "mark": {"type": "rule", "stroke": "#d0d0d0", "strokeWidth": 1},
        "encoding": {
         "x": {"field": "ci", "type": "quantitative", "scale": {"domain": [0, 1, 2, 3, 4, 5, 6, 7], "range": [6, 43, 75, 102, 228, 327, 411, 617], "nice": false, "zero": false}},
         "y": {"datum": 0.5, "type": "quantitative", "scale": {"domain": [0, 3], "range": [19, 51], "nice": false, "zero": false}},
         "y2": {"datum": 3.5}}},
       {"data": {"name": "cols"},
        "transform": [{"filter": "datum.ci > 0 && datum.ci < 7"}],
        "mark": {"type": "rule", "stroke": "#3a3a3a", "strokeWidth": 1.2},
        "encoding": {
         "x": {"field": "ci", "type": "quantitative", "scale": {"domain": [0, 1, 2, 3, 4, 5, 6, 7], "range": [6, 43, 75, 102, 228, 327, 411, 617], "nice": false, "zero": false}},
         "y": {"datum": -0.5, "type": "quantitative", "scale": {"domain": [0, 3], "range": [19, 51], "nice": false, "zero": false}},
         "y2": {"datum": 0.5}}},
       {"data": {"name": "cols"},
        "transform": [{"filter": "datum.ci < 7"}, {"calculate": "datum.ci + 0.5", "as": "mid"}],
        "mark": {"type": "text", "align": "center", "baseline": "middle", "fontSize": 9.5, "fontWeight": "bold", "fill": "#222"},
        "encoding": {
         "x": {"field": "mid", "type": "quantitative", "scale": {"domain": [0, 1, 2, 3, 4, 5, 6, 7], "range": [6, 43, 75, 102, 228, 327, 411, 617], "nice": false, "zero": false}},
         "y": {"datum": 0, "type": "quantitative", "scale": {"domain": [0, 3], "range": [19, 51], "nice": false, "zero": false}},
         "text": {"field": "h"}}},
       {"data": {"name": "markers"},
        "transform": [
         {"fold": ["type", "ref", "trc", "xv", "yv"], "as": ["key", "cell"]},
         {"calculate": "indexof(['type','ref','trc','xv','yv'], datum.key) + 1", "as": "cx"}
        ],
        "mark": {"type": "text", "align": "right", "baseline": "middle", "fontSize": 9, "fill": "#5c5c5c", "dx": -4},
        "encoding": {
         "x": {"field": "cx", "type": "quantitative", "scale": {"domain": [0, 1, 2, 3, 4, 5, 6, 7], "range": [6, 43, 75, 102, 228, 327, 411, 617], "nice": false, "zero": false}},
         "y": {"field": "row", "type": "quantitative", "scale": {"domain": [0, 3], "range": [19, 51], "nice": false, "zero": false}},
         "text": {"field": "cell"}}}
      ]
     },
     {
      "width": 620, "height": 38,
      "data": {"name": "misc"},
      "mark": {"type": "text", "align": "left", "baseline": "middle", "font": "Liberation Mono", "fontSize": 8.7, "fill": "#9a9a9a", "dy": 2},
      "encoding": {
       "x": {"datum": 0, "type": "quantitative", "scale": {"domain": [0, 1], "nice": false, "zero": false}},
       "text": {"field": "date"}
      }
     }
    ],
    "spacing": 3,
    "bounds": "flush"
   }
  ],
  "spacing": 312,
  "bounds": "flush"
 }
]
}
